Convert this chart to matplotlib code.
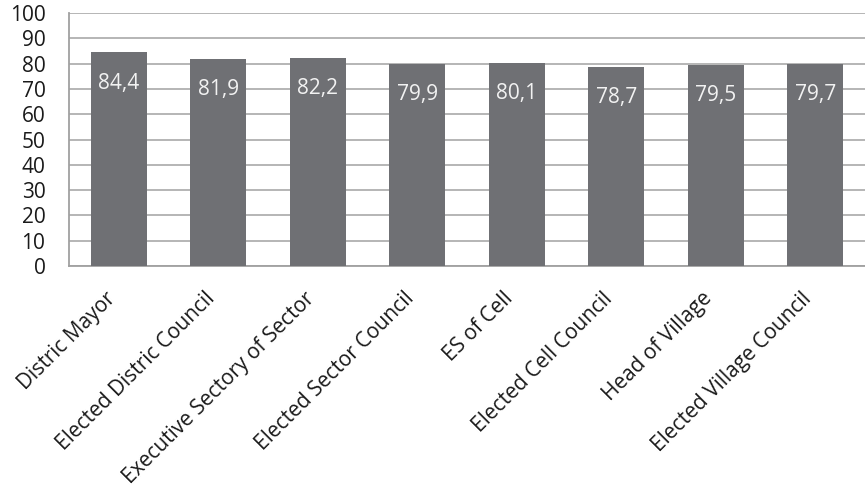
import matplotlib.pyplot as plt
import matplotlib.transforms as mtransforms

plt.rcParams["font.family"] = ["Open Sans", "DejaVu Sans"]

categories = [
    "Distric Mayor",
    "Elected Distric Council",
    "Executive Sectory of Sector",
    "Elected Sector Council",
    "ES of Cell",
    "Elected Cell Council",
    "Head of Village",
    "Elected Village Council",
]
values = [84.4, 81.9, 82.2, 79.9, 80.1, 78.7, 79.5, 79.7]
yticks = list(range(0, 101, 10))

fig = plt.figure(figsize=(8.65, 4.94), dpi=100)
ax = fig.add_axes([69 / 865, 1 - 266 / 494, 796 / 865, 253 / 494])

x = range(len(categories))
bars = ax.bar(x, values, width=0.56, color="#6f7074", zorder=3)

# value labels inside the top of each bar
for bar, v in zip(bars, values):
    ax.annotate(
        f"{v:.1f}".replace(".", ","),
        (bar.get_x() + bar.get_width() / 2, bar.get_height()),
        xytext=(0, -22),
        textcoords="offset points",
        ha="center",
        va="center",
        color="#f2f2f2",
        fontsize=15,
        zorder=4,
    )

ax.set_xlim(-0.5, len(categories) - 0.5)
ax.set_ylim(0, 100)
ax.set_yticks(yticks)
ax.set_yticklabels([str(t) for t in yticks], fontsize=15)
ax.set_xticks(list(x))
ax.set_xticklabels(
    categories, rotation=45, ha="right", rotation_mode="anchor", fontsize=15
)
ax.tick_params(axis="both", length=0, colors="#1a1a1a")
ax.tick_params(axis="y", pad=17)
ax.tick_params(axis="x", pad=16)

# nudge rotated labels a bit to the left
shift = mtransforms.ScaledTranslation(-10 / 72, 0, fig.dpi_scale_trans)
for lbl in ax.get_xticklabels():
    lbl.set_transform(lbl.get_transform() + shift)

ax.grid(axis="y", color="#b0b0b0", linewidth=1.3, zorder=0)
for side in ["left", "bottom"]:
    ax.spines[side].set_color("#a0a0a0")
    ax.spines[side].set_linewidth(1.3)
for side in ["top", "right"]:
    ax.spines[side].set_visible(False)

fig.savefig("out.png", dpi=100)
